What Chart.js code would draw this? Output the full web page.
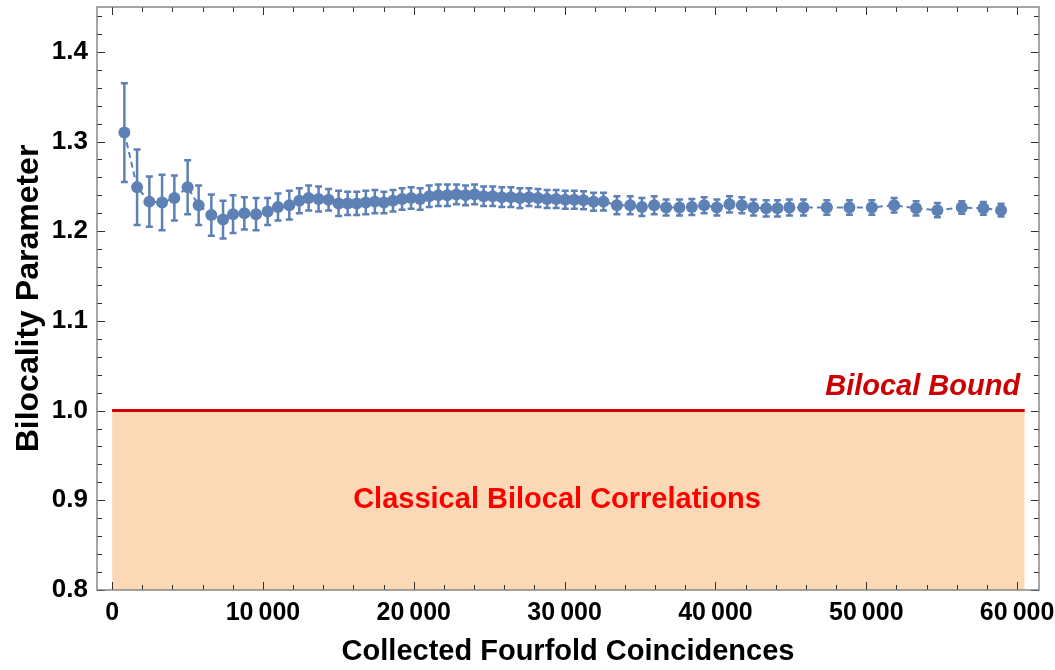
<!DOCTYPE html>
<html>
<head>
<meta charset="utf-8">
<script src="https://cdn.jsdelivr.net/npm/chart.js@4.4.1/dist/chart.umd.min.js"></script>
<style>
  body { margin: 0; background: #fff; }
  canvas { display: block; }
</style>
</head>
<body>
<canvas id="chart" width="1055" height="670"></canvas>
<script>
// values
const counts = [
  815, 1657, 2472, 3313, 4128, 5010, 5739, 6580, 7356, 8019,
  8768, 9543, 10312, 11000, 11750, 12413, 13030, 13690, 14354, 15017,
  15618, 16219, 16820, 17421, 18022, 18623, 19224, 19825, 20426, 21027,
  21628, 22229, 22830, 23431, 24032, 24633, 25234, 25835, 26436, 27037,
  27638, 28239, 28840, 29441, 30042, 30643,
  31253, 31916, 32578, 33466, 34347, 35123, 35938,
  36733, 37615, 38436, 39252, 40093, 40929, 41750, 42519, 43361, 44110,
  44905, 45833, 47384, 48882, 50366, 51844, 53302, 54713, 56330, 57762,
  58934
];
const bilocality = [
  1.310, 1.249, 1.233, 1.232, 1.237, 1.249, 1.229, 1.218, 1.213, 1.219,
  1.220, 1.219, 1.222, 1.227, 1.229, 1.234, 1.237, 1.236, 1.235, 1.231,
  1.231, 1.231, 1.232, 1.233, 1.232, 1.234, 1.236, 1.237, 1.236, 1.239,
  1.240, 1.240, 1.241, 1.240, 1.241, 1.239, 1.239, 1.238, 1.238, 1.237,
  1.238, 1.237, 1.236, 1.236, 1.235, 1.235,
  1.2346, 1.2328, 1.233, 1.229, 1.229, 1.227, 1.229,
  1.2265, 1.2265, 1.227, 1.229, 1.2265, 1.230, 1.229, 1.2265, 1.2255, 1.2255,
  1.2265, 1.2265, 1.2265, 1.2265, 1.2265, 1.229, 1.2255, 1.2235, 1.2265, 1.2255,
  1.2235
];
const errors = [
  0.055, 0.042, 0.028, 0.031, 0.025, 0.030, 0.022, 0.023, 0.021, 0.021,
  0.018, 0.018, 0.015, 0.015, 0.016, 0.014, 0.014, 0.014, 0.012, 0.014,
  0.013, 0.013, 0.013, 0.013, 0.012, 0.012, 0.012, 0.012, 0.012, 0.012,
  0.012, 0.012, 0.011, 0.011, 0.011, 0.011, 0.011, 0.011, 0.011, 0.011,
  0.010, 0.010, 0.010, 0.010, 0.010, 0.010,
  0.010, 0.010, 0.010, 0.010, 0.010, 0.010, 0.010,
  0.009, 0.009, 0.009, 0.009, 0.009, 0.009, 0.009, 0.009, 0.009, 0.009,
  0.009, 0.009, 0.008, 0.008, 0.008, 0.008, 0.008, 0.008, 0.007, 0.007,
  0.007
];

const xTickValues = [0, 10000, 20000, 30000, 40000, 50000, 60000];
const xTickLabels = ['0', '10\u2009000', '20\u2009000', '30\u2009000', '40\u2009000', '50\u2009000', '60\u2009000'];
const yTickValues = [0.8, 0.9, 1.0, 1.1, 1.2, 1.3, 1.4];
const yTickLabels = ['0.8', '0.9', '1.0', '1.1', '1.2', '1.3', '1.4'];

// bilocal bound line and the classical region under it
const boundX = [0, 60500];
const boundY = [1.0, 1.0];

const blue = '#5e81b5';
const font = '"Liberation Sans", Arial, sans-serif';

// vertical error bars with small caps
const errorBars = {
  id: 'errorBars',
  afterDatasetsDraw(chart) {
    const {ctx, scales: {x, y}} = chart;
    ctx.save();
    ctx.strokeStyle = blue;
    ctx.lineWidth = 2.5;
    counts.forEach((c, i) => {
      const px = x.getPixelForValue(c);
      const top = y.getPixelForValue(bilocality[i] + errors[i]);
      const bot = y.getPixelForValue(bilocality[i] - errors[i]);
      ctx.beginPath();
      ctx.moveTo(px, top); ctx.lineTo(px, bot);
      ctx.moveTo(px - 3.5, top); ctx.lineTo(px + 3.5, top);
      ctx.moveTo(px - 3.5, bot); ctx.lineTo(px + 3.5, bot);
      ctx.stroke();
    });
    ctx.restore();
  }
};

// frame with ticks pointing inward on all four sides
const frame = {
  id: 'frame',
  afterDraw(chart) {
    const {ctx, chartArea: a, scales: {x, y}} = chart;
    ctx.save();
    ctx.strokeStyle = '#333';
    ctx.lineWidth = 1;
    ctx.beginPath();
    for (let v = 0; v <= 60000; v += 2000) {
      const px = Math.round(x.getPixelForValue(v)) + 0.5;
      const len = v % 10000 === 0 ? 8 : 5;
      ctx.moveTo(px, a.bottom); ctx.lineTo(px, a.bottom - len);
      ctx.moveTo(px, a.top); ctx.lineTo(px, a.top + len);
    }
    for (let k = 0; k <= 32; k++) {
      const v = 0.8 + k * 0.02;
      const py = Math.round(y.getPixelForValue(v)) + 0.5;
      const len = k % 5 === 0 ? 8 : 5;
      ctx.moveTo(a.left, py); ctx.lineTo(a.left + len, py);
      ctx.moveTo(a.right, py); ctx.lineTo(a.right - len, py);
    }
    ctx.stroke();
    ctx.strokeStyle = '#777';
    ctx.lineWidth = 1.3;
    ctx.strokeRect(a.left, a.top, a.right - a.left, a.bottom - a.top);
    ctx.restore();
  }
};

const labels = {
  id: 'labels',
  afterDatasetsDraw(chart) {
    const {ctx, scales: {x, y}} = chart;
    ctx.save();
    ctx.fillStyle = '#ff0000';
    ctx.font = 'bold 29px ' + font;
    ctx.textAlign = 'center';
    ctx.textBaseline = 'middle';
    ctx.fillText('Classical Bilocal Correlations', x.getPixelForValue(29500), y.getPixelForValue(0.9));
    ctx.fillStyle = '#cc0000';
    ctx.font = 'italic bold 29px ' + font;
    ctx.textAlign = 'right';
    ctx.textBaseline = 'alphabetic';
    ctx.fillText('Bilocal Bound', x.getPixelForValue(60200), y.getPixelForValue(1.017));
    ctx.restore();
  }
};

const ctx = document.getElementById('chart').getContext('2d');
new Chart(ctx, {
  type: 'scatter',
  data: {
    datasets: [{
      data: counts.map((c, i) => ({x: c, y: bilocality[i]})),
      showLine: true,
      borderColor: blue,
      borderWidth: 2,
      borderDash: [6, 4],
      backgroundColor: blue,
      pointRadius: 6,
      pointBorderWidth: 0,
      order: 0
    }, {
      data: boundX.map((v, i) => ({x: v, y: boundY[i]})),
      showLine: true,
      fill: 'start',
      backgroundColor: '#fcd9b6',
      borderColor: '#d40000',
      borderWidth: 3,
      pointRadius: 0,
      order: 1
    }]
  },
  options: {
    responsive: false,
    animation: false,
    layout: {padding: {left: 0, right: 16, top: 7, bottom: 0}},
    plugins: {
      legend: {display: false},
      tooltip: {enabled: false}
    },
    scales: {
      x: {
        type: 'linear',
        min: -1000,
        max: 61450,
        afterFit: s => { s.height = 80; s.paddingLeft = 0; s.paddingRight = 0; },
        afterBuildTicks: s => { s.ticks = xTickValues.map(v => ({value: v})); },
        grid: {display: false, drawTicks: false},
        border: {display: false},
        ticks: {
          padding: 8,
          maxRotation: 0,
          autoSkip: false,
          color: '#000',
          font: {family: font, size: 25, weight: 'bold'},
          callback: (v, i) => xTickLabels[i]
        },
        title: {
          display: true,
          text: 'Collected Fourfold Coincidences',
          color: '#000',
          font: {family: font, size: 29, weight: 'bold'},
          padding: {top: 0, bottom: 1}
        }
      },
      y: {
        type: 'linear',
        min: 0.8,
        max: 1.45,
        afterFit: s => { s.width = 97; s.paddingTop = 0; s.paddingBottom = 0; },
        afterBuildTicks: s => { s.ticks = yTickValues.map(v => ({value: v})); },
        grid: {display: false, drawTicks: false},
        border: {display: false},
        ticks: {
          padding: 9,
          color: '#000',
          font: {family: font, size: 26, weight: 'bold'},
          callback: (v, i) => yTickLabels[i]
        },
        title: {
          display: true,
          text: 'Bilocality Parameter',
          color: '#000',
          font: {family: font, size: 32, weight: 'bold'},
          padding: {top: 10, bottom: 0}
        }
      }
    }
  },
  plugins: [errorBars, labels, frame]
});
</script>
</body>
</html>
